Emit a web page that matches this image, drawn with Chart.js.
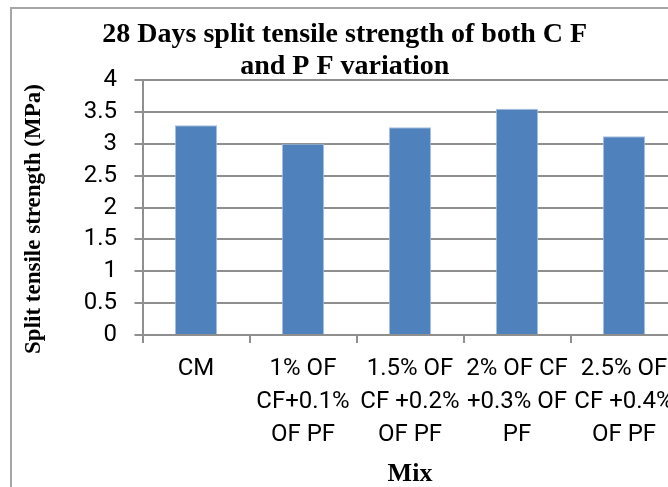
<!DOCTYPE html>
<html>
<head>
<meta charset="utf-8">
<script src="https://cdn.jsdelivr.net/npm/chart.js@4"></script>
<style>
  html, body { margin: 0; padding: 0; background: #fff; overflow: hidden; width: 668px; height: 487px; }
  #frame { position: absolute; left: 10px; top: 7px; width: 700px; height: 500px;
           border-left: 2px solid #a6a6a6; border-top: 2px solid #a6a6a6; }
  #chart { display: block; }
</style>
</head>
<body>
<div id="frame"><canvas id="chart" width="700" height="500"></canvas></div>
<script>
// values
const mixLabels = [
    ['CM'],
    ['1% OF', 'CF+0.1%', 'OF PF'],
    ['1.5% OF', 'CF +0.2%', 'OF PF'],
    ['2% OF CF', '+0.3% OF', 'PF'],
    ['2.5% OF', 'CF +0.4%', 'OF PF']
];
const strengthValues = [3.29, 3.0, 3.26, 3.55, 3.12];
const titleLines = ['28 Days split tensile strength of both C F', 'and P F variation'];
const yAxisTitle = 'Split tensile strength (MPa)';
const xAxisTitle = 'Mix';

const gridGrey = '#8f8f8f';
const sans = "Roboto, 'Liberation Sans', sans-serif";
const serif = "'Liberation Serif', 'Times New Roman', serif";

const ctx = document.getElementById('chart').getContext('2d');

new Chart(ctx, {
    type: 'bar',
    data: {
        labels: mixLabels,
        datasets: [{
            data: strengthValues,
            backgroundColor: '#4f81bd',
            borderColor: '#a9c0e0',
            borderWidth: 1,
            categoryPercentage: 1,
            barPercentage: 0.396
        }]
    },
    options: {
        responsive: false,
        animation: false,
        layout: {
            padding: { left: 0, top: 0, right: 34.5, bottom: 0 }
        },
        plugins: {
            legend: { display: false },
            tooltip: { enabled: false },
            title: {
                display: true,
                text: titleLines,
                color: '#000',
                font: { family: serif, size: 28, weight: 'bold', lineHeight: 1.14 },
                padding: { top: 9.8, bottom: -2.6 }
            }
        },
        scales: {
            x: {
                grid: {
                    drawOnChartArea: false,
                    color: gridGrey,
                    lineWidth: 2,
                    tickLength: 8
                },
                border: { color: gridGrey, width: 2 },
                ticks: {
                    color: '#000',
                    font: { family: sans, size: 24, lineHeight: 1.375 },
                    padding: 9.5,
                    maxRotation: 0,
                    autoSkip: false
                },
                title: {
                    display: true,
                    text: xAxisTitle,
                    color: '#000',
                    font: { family: serif, size: 26, weight: 'bold', lineHeight: 1.2 },
                    padding: { top: 0, bottom: 19.5 }
                },
                afterFit: function (scale) {
                    scale.height = 174;
                }
            },
            y: {
                min: 0,
                max: 4,
                grid: {
                    color: gridGrey,
                    lineWidth: 2,
                    tickLength: 8
                },
                border: { color: gridGrey, width: 2 },
                ticks: {
                    stepSize: 0.5,
                    color: '#000',
                    font: { family: sans, size: 24 },
                    padding: 17.5,
                    callback: value => String(value)
                },
                title: {
                    display: true,
                    text: yAxisTitle + '    ',
                    color: '#000',
                    font: { family: serif, size: 23, weight: 'bold', lineHeight: 1.2 },
                    padding: { top: 8.2, bottom: 0 }
                },
                afterFit: function (scale) {
                    scale.width = 130.5;
                }
            }
        }
    }
});
</script>
</body>
</html>
